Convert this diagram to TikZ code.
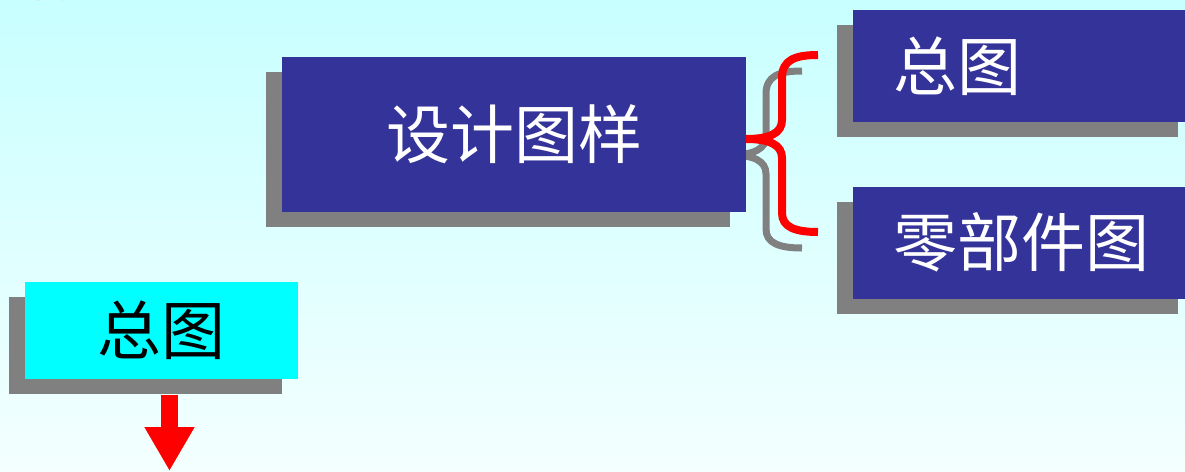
\documentclass[tikz,border=0pt]{standalone}
\usepackage{fontspec}
\newfontfamily\cjk{Noto Sans CJK SC}
\usetikzlibrary{shadows,arrows.meta,calc}
\definecolor{boxblue}{HTML}{333399}
\definecolor{shadowgray}{HTML}{808080}
\definecolor{boxcyan}{HTML}{00FFFF}
\definecolor{bgtop}{HTML}{C8FFFF}
\definecolor{bgbottom}{HTML}{F4FFFF}
\tikzset{
  bracepic/.pic={
    \draw[pic actions] (72,-84) .. controls (49,-84) and (36,-79) .. (36,-61) -- (36,-19)
      .. controls (36,-6) and (24,0) .. (0,0)
      .. controls (24,0) and (36,6) .. (36,19) -- (36,74)
      .. controls (36,88) and (49,93) .. (72,93);
  }
}
\begin{document}
\begin{tikzpicture}[x=1pt,y=-1pt,
  cjktext/.style={font=\cjk\fontsize{64}{72}\selectfont},
  shadowed/.style={rectangle, inner sep=0pt, cjktext,
    general shadow={fill=shadowgray, shadow xshift=-16pt, shadow yshift=-15pt}},
  mainbox/.style={shadowed, fill=boxblue, text=white, minimum width=464pt, minimum height=155pt},
  rightbox/.style={shadowed, fill=boxblue, text=white, text width=261pt, inner xsep=40pt, align=left, minimum height=112pt},
  cyanbox/.style={shadowed, fill=boxcyan, text=black, minimum width=273pt, minimum height=97pt},
  redtitle/.style={cjktext, text=red, inner sep=0pt},
  arrowline/.style={draw=red, line width=17pt, -{Triangle[width=47pt,length=44pt]}}
]
\useasboundingbox (0,0) rectangle (1185,471);
\clip (0,0) rectangle (1185,471);
\shade[top color=bgtop, bottom color=bgbottom] (0,0) rectangle (1185,471);

\node[redtitle] (title) at (90,-29) {概述};

\coordinate (bracetip) at (746,139);
\pic[draw=shadowgray, line width=7pt] at ($(bracetip)+(-16,16)$) {bracepic};

\node[mainbox] (design) at (514,134) {设计图样};

\pic[draw=red, line width=8pt] at (bracetip) {bracepic};

\node[rightbox] (general) at (1023.5,66) {总图};
\node[rightbox] (parts) at (1023.5,242.5) {零部件图};

\node[cyanbox] (overview) at (161.5,330.5) {总图};

\coordinate (arrowtip) at (169.5,471);
\draw[arrowline] ($(overview.south -| arrowtip)+(0,16)$) -- (arrowtip);
\end{tikzpicture}
\end{document}
